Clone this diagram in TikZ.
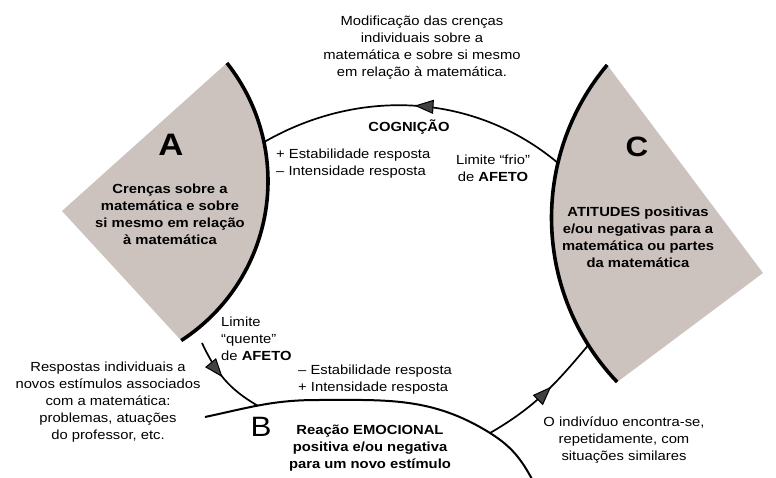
\documentclass[tikz,border=0pt]{standalone}
\usepackage{fontspec}
\setmainfont{Liberation Sans}[FakeStretch=1.12]
\usetikzlibrary{arrows.meta,decorations.markings}
\definecolor{wedge}{RGB}{204,194,190}
\definecolor{arrowgray}{RGB}{65,65,65}
\begin{document}
\begin{tikzpicture}[x=1pt,y=1pt,
  lbl/.style={font=\fontsize{13.2}{17}\selectfont, align=center, inner sep=0pt},
  lblb/.style={font=\fontsize{13.2}{17}\selectfont\bfseries, align=center, inner sep=0pt},
  bigl/.style={font=\fontsize{31}{31}\selectfont\bfseries, inner sep=0pt},
  bigB/.style={font=\fontsize{28}{28}\selectfont, inner sep=0pt},
  thickarc/.style={line width=3.6pt},
  conn/.style={line width=1.7pt},
  arrowmark/.style={postaction={decorate}, decoration={markings,
    mark=at position #1 with {\arrow{Triangle[length=19pt,width=14pt,fill=arrowgray,line width=1pt]}}}}]
\useasboundingbox (0,0) rectangle (776,477);
% ---- wedge A
\coordinate (Actr) at (78,296);
\coordinate (Aleft) at (62,266);
\coordinate (Atop) at ([shift={(38.4:190)}]Actr);
\coordinate (A1) at ([shift={(11.8:190)}]Actr);
\fill[wedge] (Aleft) -- (Atop) arc[start angle=38.4, end angle=-57.1, radius=190] -- cycle;
\draw[thickarc] (Atop) arc[start angle=38.4, end angle=-57.1, radius=190];
% ---- wedge C
\coordinate (Cctr) at (789.5,259.1);
\coordinate (Ctop) at ([shift={(140:238)}]Cctr);
\coordinate (Cright) at (763,204);
\coordinate (C1) at ([shift={(166.66:238)}]Cctr);
\coordinate (C2) at ([shift={(212.3:238)}]Cctr);
\fill[wedge] (Cright) -- (Ctop) arc[start angle=140, end angle=223.6, radius=238] -- cycle;
\draw[thickarc] (Ctop) arc[start angle=140, end angle=223.6, radius=238];
% ---- B curve
\coordinate (Bl) at (205,60);
\coordinate (Bpk) at (317,77);
\coordinate (Bm) at (490,44);
\coordinate (Bend) at (533,-4);
\draw[line width=2pt] (Bl) to[out=12,in=180] coordinate[pos=0.47] (Bj) (Bpk)
  to[out=0,in=148] (Bm) to[out=-32,in=118] (Bend);
% ---- connectors
\coordinate (A2) at (202,134);
\draw[conn, arrowmark=0.5] (C1) to[out=140,in=30,looseness=0.95] (A1);
\draw[conn, arrowmark=0.47] (A2) to[out=-65,in=150] (Bj);
\draw[conn, arrowmark=0.58] (Bm) to[out=30,in=230] (C2);
% ---- texts
\node[lbl] (topTxt) at (422,429.5) {Modificação das crenças\\individuais sobre a\\matemática e sobre si mesmo\\em relação à matemática.};
\node[lblb] (cog) at (409,350) {COGNIÇÃO};
\node[lbl, align=left, anchor=west] (stab1) at (276,313) {+ Estabilidade resposta\\– Intensidade resposta};
\node[lbl] (frio) at (493,309) {Limite “frio”\\de \textbf{AFETO}};
\node[bigl] (Alet) at (171,332) {A};
\node[lblb] (Atxt) at (170,263) {Crenças sobre a\\matemática e sobre\\si mesmo em relação\\à matemática};
\node[bigl, font=\fontsize{28}{28}\selectfont\bfseries] (Clet) at (637,330) {C};
\node[lblb] (Ctxt) at (638,240) {ATITUDES positivas\\e/ou negativas para a\\matemática ou partes\\da matemática};
\node[lbl, align=left, anchor=west] (quente) at (221,138) {Limite\\“quente”\\de \textbf{AFETO}};
\node[lbl, align=left, anchor=west] (stab2) at (298,97) {– Estabilidade resposta\\+ Intensidade resposta};
\node[lbl] (resp) at (108,75) {Respostas individuais a\\novos estímulos associados\\com a matemática:\\problemas, atuações\\do professor, etc.};
\node[bigB] (Blet) at (261,50) {B};
\node[lblb] (Btxt) at (370,29) {Reação EMOCIONAL\\positiva e/ou negativa\\para um novo estímulo};
\node[lbl] (indiv) at (624,37) {O indivíduo encontra-se,\\repetidamente, com\\situações similares};
\end{tikzpicture}
\end{document}
